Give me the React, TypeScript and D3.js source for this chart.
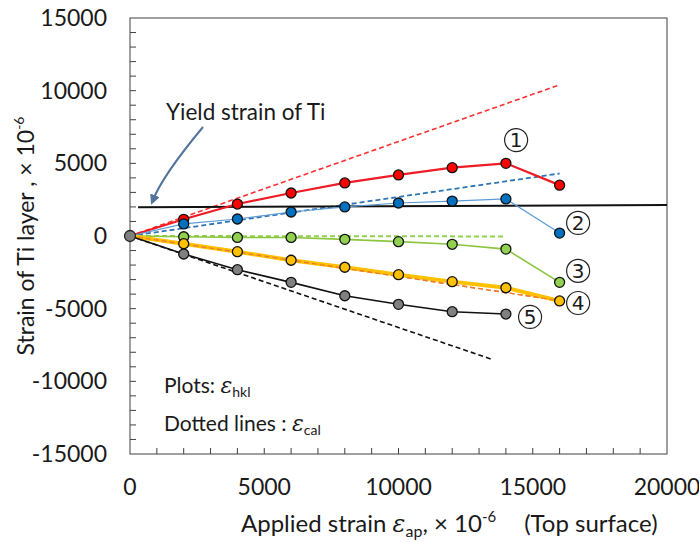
import React from 'react';
import * as d3 from 'd3';

// applied strain (x 10^-6) at each measuring step
const strainAp = [0, 2000, 4000, 6000, 8000, 10000, 12000, 14000, 16000];

// measured strain of Ti layer (plots, eps_hkl)
const hkl1 = [0, 1150, 2200, 2960, 3650, 4200, 4700, 5000, 3500];
const hkl2 = [0, 830, 1170, 1650, 2000, 2270, 2400, 2550, 200];
const hkl3 = [0, -50, -100, -100, -230, -390, -570, -900, -3190];
const hkl4 = [0, -530, -1080, -1670, -2150, -2660, -3140, -3560, -4470];
const hkl5 = [0, -1240, -2320, -3190, -4110, -4700, -5210, -5370];

// calculated strain (dotted lines, eps_cal): start and end points
const calX = [
  [0, 16000],
  [0, 16000],
  [0, 14000],
  [0, 16000],
  [0, 13500],
];
const calY = [
  [0, 10400],
  [0, 4300],
  [0, -30],
  [0, -4450],
  [0, -8500],
];

// yield strain of Ti
const yieldX = [300, 20000];
const yieldY = [1980, 2130];

const xTickLabels = [0, 5000, 10000, 15000, 20000];
const yTickLabels = [15000, 10000, 5000, 0, -5000, -10000, -15000];

const labelNames = ['1', '2', '3', '4', '5'];
const labelX = [14380, 16690, 16690, 16690, 14900];
const labelY = [6600, 900, -2400, -4610, -5570];

const FONT = "Lato, 'Open Sans', sans-serif";
const TXT = '#1a1a1a';

type Pt = [number, number];

const App = () => {
  const width = 699;
  const height = 542;

  const x = d3.scaleLinear().domain([0, 20000]).range([130, 667]);
  const y = d3.scaleLinear().domain([-15000, 15000]).range([454, 18]);

  const line = d3
    .line<Pt>()
    .x(d => x(d[0]))
    .y(d => y(d[1]));

  const zip = (vals: number[]): Pt[] => vals.map((v, i) => [strainAp[i], v]);

  const series = [
    { vals: hkl1, fill: '#ff0000', stroke: '#ee1c25', sw: 2.2 },
    { vals: hkl2, fill: '#0070c0', stroke: '#5b9bd5', sw: 1.2 },
    { vals: hkl3, fill: '#92d050', stroke: '#8cc63f', sw: 1.6 },
    { vals: hkl4, fill: '#ffc000', stroke: '#ffc000', sw: 4 },
    { vals: hkl5, fill: '#808080', stroke: '#111111', sw: 1.6 },
  ];

  const calStyle = [
    { stroke: '#ff3030', sw: 1.6 },
    { stroke: '#2e75b6', sw: 1.8 },
    { stroke: '#92d050', sw: 2 },
    { stroke: '#ed7d31', sw: 1.4 },
    { stroke: '#111111', sw: 1.6 },
  ];

  const xMinor = d3.range(1000, 20000, 1000);
  const yMinor = d3.range(-14000, 15000, 1000);

  const arrowPath = d3.path();
  arrowPath.moveTo(203, 127);
  arrowPath.quadraticCurveTo(163, 175, 153, 200);

  return (
    <svg
      width={width}
      height={height}
      style={{ position: 'absolute', left: 0, top: 0, background: '#fff' }}
      fontFamily={FONT}
    >
      <defs>
        <marker
          id="arrowHead"
          viewBox="0 0 10 10"
          refX="5"
          refY="5"
          markerWidth="5"
          markerHeight="5"
          orient="auto"
        >
          <path d="M0,0 L10,5 L0,10 z" fill="#52749a" />
        </marker>
      </defs>

      {/* frame */}
      <rect
        x={x(0)}
        y={y(15000)}
        width={x(20000) - x(0)}
        height={y(-15000) - y(15000)}
        fill="none"
        stroke="#404040"
        strokeWidth={1}
      />

      {/* ticks */}
      {xMinor.map(t => (
        <line key={'xt' + t} x1={x(t)} x2={x(t)} y1={y(-15000)} y2={y(-15000) - 6} stroke="#404040" />
      ))}
      {yMinor.map(t => (
        <line key={'yt' + t} x1={x(0)} x2={x(0) + 6} y1={y(t)} y2={y(t)} stroke="#404040" />
      ))}

      {/* tick labels */}
      {xTickLabels.map(t => (
        <text key={'xl' + t} x={x(t)} y={495} textAnchor="middle" fontSize={23} fill={TXT}>
          {t}
        </text>
      ))}
      {yTickLabels.map(t => (
        <text key={'yl' + t} x={107} y={y(t) + 8} textAnchor="end" fontSize={23} fill={TXT}>
          {t}
        </text>
      ))}

      {/* axis titles */}
      <text x={241} y={532} fontSize={24} fill={TXT}>
        Applied strain{' '}
        <tspan fontFamily="'DejaVu Serif', serif" fontStyle="italic" fontSize={24}>
          ε
        </tspan>
        <tspan fontSize={16} dy={5}>
          ap
        </tspan>
        <tspan dy={-5}>,  × 10</tspan>
        <tspan fontSize={15} dy={-10}>
          -6
        </tspan>
        <tspan dy={10} dx={28}>
          (Top surface)
        </tspan>
      </text>
      <text
        transform="translate(34,236) rotate(-90)"
        textAnchor="middle"
        fontSize={23}
        fill={TXT}
      >
        Strain of Ti layer ,  × 10
        <tspan fontSize={14} dy={-10}>
          -6
        </tspan>
      </text>

      {/* dotted lines */}
      {calX.map((xs, i) => (
        <path
          key={'cal' + i}
          d={line(xs.map((v, j) => [v, calY[i][j]] as Pt)) || ''}
          fill="none"
          stroke={calStyle[i].stroke}
          strokeWidth={calStyle[i].sw}
          strokeDasharray="5,3"
        />
      ))}

      {/* yield strain */}
      <path
        d={line(yieldX.map((v, j) => [v, yieldY[j]] as Pt)) || ''}
        fill="none"
        stroke="#111"
        strokeWidth={2}
      />
      <text x={166} y={120} fontSize={22.5} fill={TXT}>
        Yield strain of Ti
      </text>
      <path
        d={arrowPath.toString()}
        fill="none"
        stroke="#52749a"
        strokeWidth={2}
        markerEnd="url(#arrowHead)"
      />

      {/* measured lines */}
      {series.map((s, i) => (
        <path
          key={'ln' + i}
          d={line(zip(s.vals)) || ''}
          fill="none"
          stroke={s.stroke}
          strokeWidth={s.sw}
        />
      ))}
      {/* orange dotted drawn over its thick line */}
      <path
        d={line(calX[3].map((v, j) => [v, calY[3][j]] as Pt)) || ''}
        fill="none"
        stroke={calStyle[3].stroke}
        strokeWidth={calStyle[3].sw}
        strokeDasharray="5,3"
      />

      {/* markers */}
      {series.map((s, i) =>
        zip(s.vals)
          .slice(1)
          .map((d, j) => (
            <circle
              key={'pt' + i + '-' + j}
              cx={x(d[0])}
              cy={y(d[1])}
              r={5}
              fill={s.fill}
              stroke="#111"
              strokeWidth={1.3}
            />
          ))
      )}
      <circle cx={x(0)} cy={y(0)} r={5.5} fill="#808080" stroke="#222" strokeWidth={1.3} />

      {/* series labels (circled numbers) */}
      {labelNames.map((n, i) => (
        <g key={'lab' + i} transform={`translate(${x(labelX[i])},${y(labelY[i])})`}>
          <circle r={11.5} fill="#fff" stroke="#222" strokeWidth={1.2} />
          <text
            y={7}
            textAnchor="middle"
            fontFamily="'DejaVu Sans', sans-serif"
            fontSize={20}
            fill={TXT}
          >
            {n}
          </text>
        </g>
      ))}

      {/* legend note */}
      <text x={164} y={393} fontSize={21} fill={TXT}>
        Plots:{' '}
        <tspan fontFamily="'DejaVu Serif', serif" fontStyle="italic" fontSize={22}>
          ε
        </tspan>
        <tspan fontSize={14} dy={4}>
          hkl
        </tspan>
      </text>
      <text x={164} y={431} fontSize={21} fill={TXT}>
        Dotted lines :{' '}
        <tspan fontFamily="'DejaVu Serif', serif" fontStyle="italic" fontSize={22}>
          ε
        </tspan>
        <tspan fontSize={14} dy={4}>
          cal
        </tspan>
      </text>
    </svg>
  );
};

export default App;
